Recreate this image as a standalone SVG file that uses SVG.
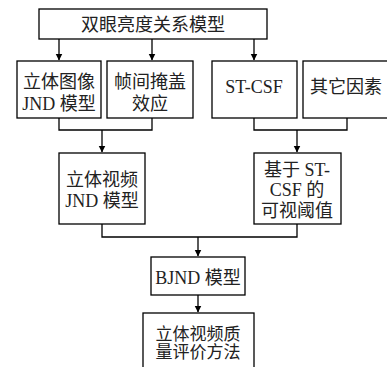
<svg xmlns="http://www.w3.org/2000/svg" width="387" height="367" viewBox="0 0 387 367">
<style>
.box{fill:#fff;stroke:#000;stroke-width:1.3}
.t{font-size:18px;fill:#222;text-anchor:middle}
.c{fill:none;stroke:#000;stroke-width:1.3}
</style>
<defs>
<marker id="ah" markerWidth="7" markerHeight="8" refX="6.5" refY="4" orient="auto" markerUnits="userSpaceOnUse">
<path d="M0,0.5 L7,4 L0,7.5 Z" fill="#000"/>
</marker>
</defs>
<g id="connectors">
<path class="c" d="M59,39 V60" marker-end="url(#ah)"/>
<path class="c" d="M152,39 V60" marker-end="url(#ah)"/>
<path class="c" d="M254,39 V60" marker-end="url(#ah)"/>
<path class="c" d="M59,118 V130 H152 V118"/>
<path class="c" d="M102,130 V152" marker-end="url(#ah)"/>
<path class="c" d="M254,118 V130 H347 V118"/>
<path class="c" d="M297,130 V152" marker-end="url(#ah)"/>
<path class="c" d="M102,224 V237 H297 V224"/>
<path class="c" d="M198,237 V256" marker-end="url(#ah)"/>
<path class="c" d="M198,295 V312" marker-end="url(#ah)"/>
</g>
<g font-family="Liberation Serif, Noto Sans CJK SC, serif">
<g id="n-top">
<rect class="box" x="39" y="9" width="228" height="30"/>
<text class="t" x="153" y="31">双眼亮度关系模型</text>
</g>
<g id="n-stereo-jnd">
<rect class="box" x="17" y="61" width="84" height="57"/>
<text class="t" x="59" y="88">立体图像</text>
<text class="t" x="59" y="110">JND 模型</text>
</g>
<g id="n-mask">
<rect class="box" x="107" y="61" width="86" height="57"/>
<text class="t" x="150" y="88">帧间掩盖</text>
<text class="t" x="150" y="110">效应</text>
</g>
<g id="n-stcsf">
<rect class="box" x="212" y="61" width="85" height="57"/>
<text class="t" x="254" y="93">ST-CSF</text>
</g>
<g id="n-other">
<rect class="box" x="303" y="61" width="90" height="57"/>
<text class="t" x="346" y="93">其它因素</text>
</g>
<g id="n-video-jnd">
<rect class="box" x="59" y="153" width="86" height="71"/>
<text class="t" x="102" y="186">立体视频</text>
<text class="t" x="102" y="207">JND 模型</text>
</g>
<g id="n-threshold">
<rect class="box" x="254" y="153" width="87" height="71"/>
<text class="t" x="297" y="176">基于 ST-</text>
<text class="t" x="297" y="196">CSF 的</text>
<text class="t" x="297" y="217">可视阈值</text>
</g>
<g id="n-bjnd">
<rect class="box" x="151" y="257" width="94" height="38"/>
<text class="t" x="198" y="284">BJND 模型</text>
</g>
<g id="n-quality">
<rect class="box" x="143" y="313" width="111" height="70"/>
<text class="t" x="198" y="340" style="font-size:17px">立体视频质</text>
<text class="t" x="198" y="358" style="font-size:17px">量评价方法</text>
</g>
</g>
</svg>
